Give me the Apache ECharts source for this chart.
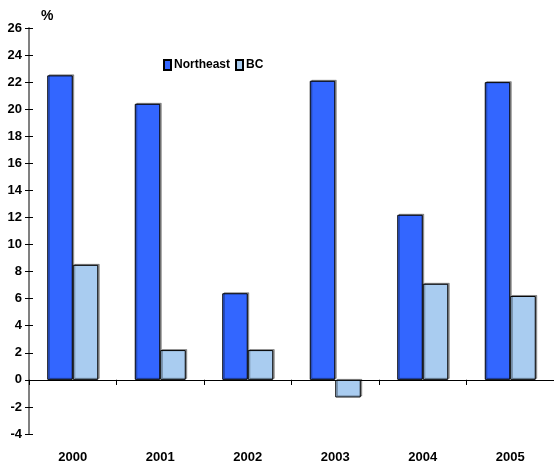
<!DOCTYPE html>
<html>
<head>
<meta charset="utf-8">
<script src="https://cdn.jsdelivr.net/npm/echarts@6/dist/echarts.min.js"></script>
<style>
  html, body { margin: 0; padding: 0; background: #fff; }
  #chart { width: 554px; height: 468px; }
</style>
</head>
<body>
<div id="chart"></div>
<script>
// Annual change, per cent
const years = ['2000', '2001', '2002', '2003', '2004', '2005'];
const northeast = [22.5, 20.4, 6.4, 22.1, 12.2, 22.0];
const bc = [8.5, 2.2, 2.2, -1.3, 7.1, 6.2];
const yMin = -4, yMax = 26, yStep = 2;

const FONT = '"Liberation Sans", Arial, sans-serif';

const chart = echarts.init(document.getElementById('chart'), null, { renderer: 'canvas' });

const barShadow = {
  shadowColor: 'rgba(0,0,0,0.35)',
  shadowOffsetX: 1.5,
  shadowOffsetY: -1,
  shadowBlur: 0
};

chart.setOption({
  animation: false,
  backgroundColor: '#ffffff',
  grid: { left: 29, right: 0, top: 28, bottom: 34, containLabel: false },
  legend: {
    left: 158, top: 54,
    itemWidth: 7, itemHeight: 10, itemGap: 5,
    icon: 'rect',
    textStyle: { fontFamily: FONT, fontWeight: 'bold', fontSize: 12, color: '#000', padding: [0, 0, 0, -2] },
    data: ['Northeast', 'BC']
  },
  title: {
    text: '%', left: 36, top: 4,
    textStyle: { fontFamily: FONT, fontWeight: 'bold', fontSize: 14, color: '#000' }
  },
  xAxis: [
    {
      type: 'category', data: years, gridIndex: 0,
      axisLine: { onZero: true, lineStyle: { color: '#000', width: 1.2 } },
      axisTick: { show: true, length: 5, lineStyle: { color: '#000' } },
      axisLabel: { show: false }
    },
    {
      type: 'category', data: years, gridIndex: 0,
      axisLine: { onZero: true, show: false },
      axisTick: { show: true, inside: true, length: 5, lineStyle: { color: '#000' } },
      axisLabel: { show: false }
    },
    {
      type: 'category', data: years, gridIndex: 0, position: 'bottom',
      axisLine: { onZero: false, show: false },
      axisTick: { show: false },
      axisLabel: { show: true, margin: 17, fontFamily: FONT, fontWeight: 'bold', fontSize: 13, color: '#000' }
    }
  ],
  yAxis: [
    {
      type: 'value', min: yMin, max: yMax, interval: yStep,
      axisLine: { show: true, lineStyle: { color: '#808080', width: 2 } },
      axisTick: { show: true, length: 4, lineStyle: { color: '#000' } },
      splitLine: { show: false },
      axisLabel: { margin: 7, fontFamily: FONT, fontWeight: 'bold', fontSize: 13, color: '#000' }
    },
    {
      type: 'value', min: yMin, max: yMax, interval: yStep, position: 'left',
      axisLine: { show: false },
      axisTick: { show: true, inside: true, length: 4, lineStyle: { color: '#000' } },
      splitLine: { show: false },
      axisLabel: { show: false }
    }
  ],
  series: [
    {
      name: 'Northeast', type: 'bar', data: northeast,
      xAxisIndex: 0, yAxisIndex: 0,
      barWidth: 25.5, barGap: '0%',
      itemStyle: Object.assign({ color: '#3366FF', borderColor: '#000', borderWidth: 1 }, barShadow)
    },
    {
      name: 'BC', type: 'bar', data: bc,
      xAxisIndex: 0, yAxisIndex: 0,
      barWidth: 25.5, barGap: '0%',
      itemStyle: Object.assign({ color: '#A9CCF0', borderColor: '#000', borderWidth: 1 }, barShadow)
    }
  ]
});
</script>
</body>
</html>
